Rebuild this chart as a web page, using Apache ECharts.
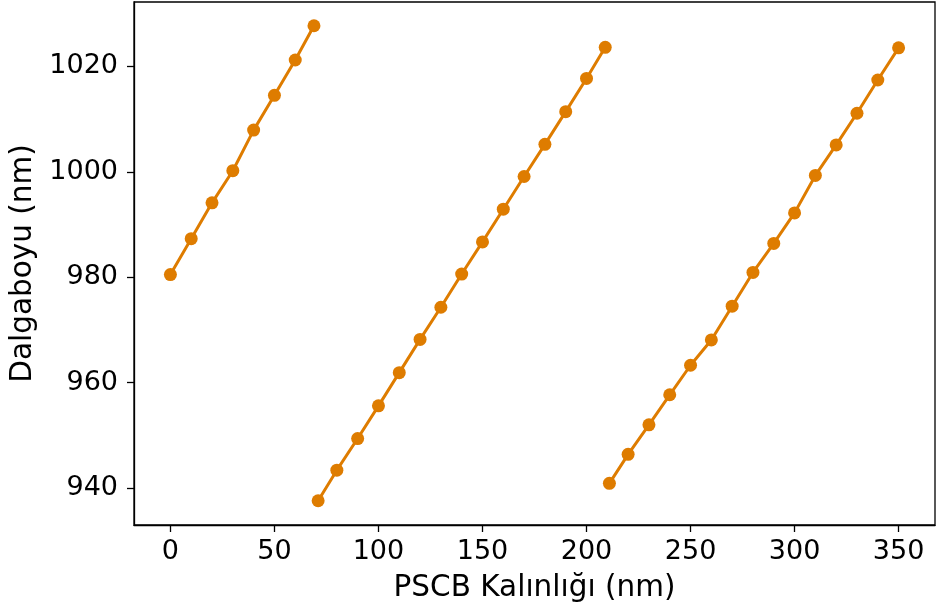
<!DOCTYPE html>
<html>
<head>
<meta charset="utf-8">
<script src="https://cdn.jsdelivr.net/npm/echarts@6/dist/echarts.min.js"></script>
<style>
  html, body { margin: 0; padding: 0; background: #fff; }
  #main { width: 937px; height: 615px; }
</style>
</head>
<body>
<div id="main"></div>
<script>
// thickness (nm) for each branch
const xA = [0, 10, 20, 30, 40, 50, 60, 69];
const xB = [71, 80, 90, 100, 110, 120, 130, 140, 150, 160, 170, 180, 190, 200, 209];
const xC = [211, 220, 230, 240, 250, 260, 270, 280, 290, 300, 310, 320, 330, 340, 350];

// wavelength (nm)
const yA = [980.5, 987.3, 994.1, 1000.2, 1007.9, 1014.5, 1021.2, 1027.7];
const yB = [937.6, 943.4, 949.4, 955.6, 961.9, 968.2, 974.3, 980.6, 986.7, 992.9, 999.1, 1005.2, 1011.4, 1017.7, 1023.6];
const yC = [940.9, 946.4, 952.0, 957.7, 963.3, 968.1, 974.5, 980.9, 986.4, 992.2, 999.3, 1005.1, 1011.1, 1017.4, 1023.5];

const xTicks = [0, 50, 100, 150, 200, 250, 300, 350];
const yTicks = [940, 960, 980, 1000, 1020];

const orange = '#de7c00';
const font = 'DejaVu Sans';

function pairs(xs, ys) {
    return xs.map((x, i) => [x, ys[i]]);
}

function branch(xs, ys) {
    return {
        type: 'line',
        data: pairs(xs, ys),
        symbol: 'circle',
        symbolSize: 13,
        lineStyle: { color: orange, width: 3 },
        itemStyle: { color: orange },
        animation: false
    };
}

function axisStyle(ticks, margin) {
    return {
        axisLine: { show: true, onZero: false, lineStyle: { color: '#000', width: 1.3 } },
        splitLine: { show: false },
        axisTick: {
            show: true,
            length: 7,
            lineStyle: { color: '#000', width: 1.3 },
            customValues: ticks
        },
        axisLabel: {
            fontFamily: font,
            fontSize: 27,
            color: '#000',
            margin: margin,
            customValues: ticks,
            formatter: v => String(v)
        }
    };
}

const myChart = echarts.init(document.getElementById('main'));

option = {
    backgroundColor: '#fff',
    grid: {
        left: 133,
        right: 2,
        top: 2,
        bottom: 90,
        show: true,
        borderColor: '#000',
        borderWidth: 1.3
    },
    xAxis: Object.assign({
        type: 'value',
        min: -17.5,
        max: 367.5,
        name: 'PSCB Kalınlığı (nm)',
        nameLocation: 'middle',
        nameGap: 48,
        nameTextStyle: { fontFamily: font, fontSize: 29.5, color: '#000' }
    }, axisStyle(xTicks, 13)),
    yAxis: Object.assign({
        type: 'value',
        min: 933.0,
        max: 1032.2,
        name: 'Dalgaboyu (nm)',
        nameLocation: 'middle',
        nameGap: 96,
        nameTextStyle: { fontFamily: font, fontSize: 29.5, color: '#000' }
    }, axisStyle(yTicks, 16)),
    series: [branch(xA, yA), branch(xB, yB), branch(xC, yC)]
};

myChart.setOption(option);
</script>
</body>
</html>
